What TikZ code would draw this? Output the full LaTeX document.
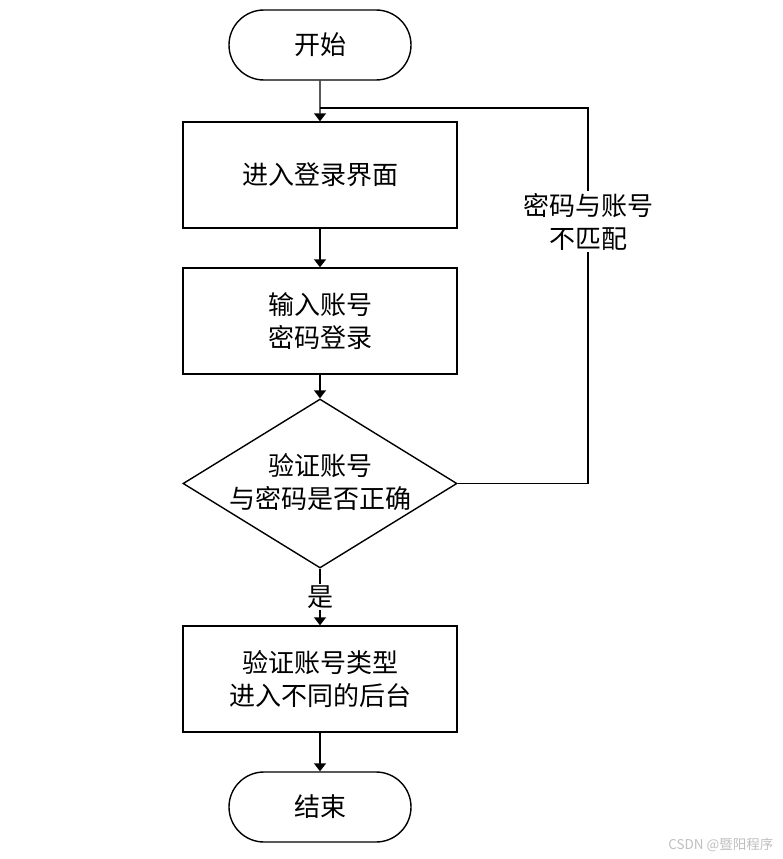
\documentclass[tikz,border=0pt]{standalone}
\usepackage{fontspec}
\setmainfont{Noto Sans CJK SC}
\usetikzlibrary{shapes.geometric,shapes.misc,arrows.meta}
\begin{document}
\begin{tikzpicture}[x=1pt,y=-1pt,
  txt/.style={font=\fontsize{26}{33}\selectfont},
  base/.style={draw=black,line width=1.4pt,align=center,txt,inner sep=0pt},
  term/.style={base,rounded rectangle,minimum width=182pt,minimum height=70pt},
  proc/.style={base,rectangle,minimum width=274pt,minimum height=106pt},
  dec/.style={base,diamond,minimum width=274pt,minimum height=169pt,aspect=1.62},
  conn/.style={line width=1.4pt,-{Triangle[width=12pt,length=8pt]}},
  lbl/.style={fill=white,align=center,txt,inner sep=2pt}]
\useasboundingbox (0,0) rectangle (783,859);
\node[term] (start) at (320,45) {开始};
\node[proc] (login) at (320,175) {进入登录界面};
\node[proc] (input) at (320,321) {输入账号\\密码登录};
\node[dec] (check) at (320,483.5) {};
\node[align=center,txt] (checkt) at (320,482) {验证账号\\与密码是否正确};
\node[proc] (type) at (320,679) {验证账号类型\\进入不同的后台};
\node[term] (end) at (320,807) {结束};
\coordinate (join) at (320,108);
\coordinate (rc) at (588,108);
\coordinate (rb) at (588,483.5);
\draw[conn] (start) -- (login);
\draw[conn] (login) -- (input);
\draw[conn] (input) -- (check);
\draw[conn] (check) -- node[lbl] (yes) {是} (type);
\draw[conn] (type) -- (end);
\draw[line width=1.4pt] (check.east) -- (rb) -- node[lbl,pos=0.697] (nomatch) {密码与账号\\不匹配} (rc) -- (join);
\node[text=gray!50,font=\fontsize{13.5}{15}\selectfont,anchor=east] (wm) at (777,845) {CSDN @暨阳程序};
\end{tikzpicture}
\end{document}
